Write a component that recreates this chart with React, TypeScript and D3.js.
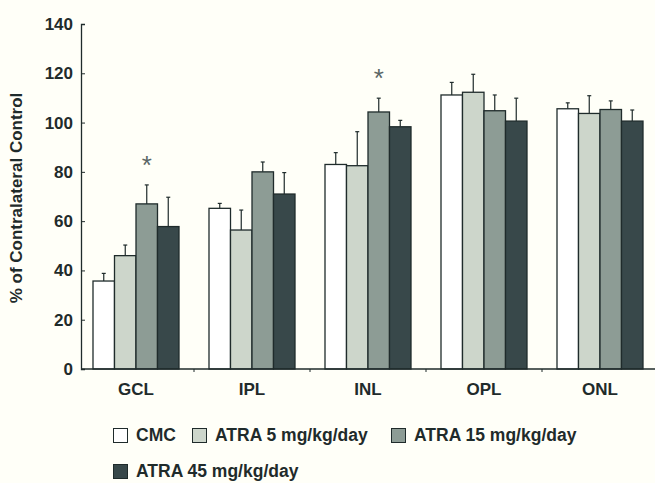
import {useEffect, useRef} from "react";
import * as d3 from 'd3'

const layers = ["GCL", "IPL", "INL", "OPL", "ONL"]
const groups = ["CMC", "ATRA 5 mg/kg/day", "ATRA 15 mg/kg/day", "ATRA 45 mg/kg/day"]
const colors = ["#ffffff", "#cdd6cb", "#8d9c95", "#38484a"]
// mean per layer, one array per group
const cmc = [35.7, 65.2, 83, 111.2, 105.6]
const atra5 = [46, 56.4, 82.5, 112.3, 103.7]
const atra15 = [67, 80, 104.3, 104.8, 105.3]
const atra45 = [57.8, 71, 98.3, 100.6, 100.6]
// error bar tops
const cmcErr = [38.8, 67.2, 87.8, 116.3, 108]
const atra5Err = [50.3, 64.5, 96.3, 119.6, 110.9]
const atra15Err = [74.7, 84, 109.9, 111.2, 108.8]
const atra45Err = [69.7, 79.7, 100.9, 109.9, 105.1]
const yTicks = [0, 20, 40, 60, 80, 100, 120, 140]
// significant: [layer, group]
const stars = [["GCL", 2], ["INL", 2]] as [string, number][]

const App = () => {
    const svgRef = useRef<SVGSVGElement>(null)

    useEffect(() => {
        const svg = d3.select(svgRef.current)
        svg.selectAll("*").remove()

        const means = [cmc, atra5, atra15, atra45]
        const errs = [cmcErr, atra5Err, atra15Err, atra45Err]
        const font = "Liberation Sans, Arial, sans-serif"
        const ink = "#1f2b2b"

        const y = d3.scaleLinear().domain([0, 140]).range([369, 24])
        const x = d3.scaleBand().domain(layers).range([78, 658])
        const x1 = d3.scaleBand().domain(groups.map((_, i) => String(i)))
            .range([15, x.bandwidth() - 15])

        svg.append("rect").attr("width", 655).attr("height", 483).attr("fill", "#fffff8")

        // bars
        layers.forEach((layer, li) => {
            const g = svg.append("g").attr("transform", `translate(${x(layer)},0)`)
            groups.forEach((_, gi) => {
                const bx = x1(String(gi))!
                const bw = x1.bandwidth()
                const cx = bx + bw / 2
                g.append("line")
                    .attr("x1", cx).attr("x2", cx)
                    .attr("y1", y(means[gi][li])).attr("y2", y(errs[gi][li]))
                    .attr("stroke", ink).attr("stroke-width", 1.2)
                g.append("line")
                    .attr("x1", cx - 2).attr("x2", cx + 2)
                    .attr("y1", y(errs[gi][li])).attr("y2", y(errs[gi][li]))
                    .attr("stroke", ink).attr("stroke-width", 1.2)
                g.append("rect")
                    .attr("x", bx).attr("y", y(means[gi][li]))
                    .attr("width", bw).attr("height", y(0) - y(means[gi][li]))
                    .attr("fill", colors[gi]).attr("stroke", ink).attr("stroke-width", 1.3)
            })
        })

        stars.forEach(([layer, gi]) => {
            const li = layers.indexOf(layer)
            svg.append("text")
                .attr("x", x(layer)! + x1(String(gi))! + x1.bandwidth() / 2)
                .attr("y", y(errs[gi][li]) - 11)
                .attr("text-anchor", "middle")
                .attr("font-family", font).attr("font-size", 26)
                .attr("fill", "#5a6666")
                .text("*")
        })

        // y axis
        const yAxis = d3.axisLeft(y).tickValues(yTicks).tickSize(-4).tickPadding(8)
        const ya = svg.append("g").attr("transform", "translate(81,0)").call(yAxis)
        ya.select(".domain").attr("stroke", ink).attr("stroke-width", 1.3)
        ya.selectAll(".tick line").attr("stroke", ink)
        ya.selectAll("text").attr("font-family", font).attr("font-size", 17)
            .attr("font-weight", "bold").attr("fill", ink)

        // x axis
        svg.append("line").attr("x1", 81).attr("x2", 655)
            .attr("y1", y(0)).attr("y2", y(0)).attr("stroke", ink).attr("stroke-width", 1.3)
        layers.slice(1).forEach(layer => {
            svg.append("line").attr("x1", x(layer)!).attr("x2", x(layer)!)
                .attr("y1", y(0)).attr("y2", y(0) + 3).attr("stroke", ink)
        })
        layers.forEach(layer => {
            svg.append("text")
                .attr("x", x(layer)! + x.bandwidth() / 2).attr("y", 395)
                .attr("text-anchor", "middle")
                .attr("font-family", font).attr("font-size", 17)
                .attr("font-weight", "bold").attr("fill", ink)
                .text(layer)
        })

        svg.append("text")
            .attr("transform", "translate(22,198) rotate(-90)")
            .attr("text-anchor", "middle")
            .attr("font-family", font).attr("font-size", 17)
            .attr("font-weight", "bold").attr("fill", ink)
            .text("% of Contralateral Control")

        // legend
        const legendPos = [[113, 441], [192, 441], [391, 441], [113, 477]]
        groups.forEach((name, gi) => {
            const [lx, ly] = legendPos[gi]
            svg.append("rect").attr("x", lx + 0.5).attr("y", ly - 12.5)
                .attr("width", 14).attr("height", 14)
                .attr("fill", colors[gi]).attr("stroke", ink).attr("stroke-width", 1)
            svg.append("text").attr("x", lx + 23).attr("y", ly)
                .attr("font-family", font).attr("font-size", 17.5)
                .attr("font-weight", "bold").attr("fill", ink)
                .text(name)
        })
    }, [])

    return (
        <svg ref={svgRef} width={655} height={483} style={{position: "absolute", left: 0, top: 0}}/>
    )
}

export default App
